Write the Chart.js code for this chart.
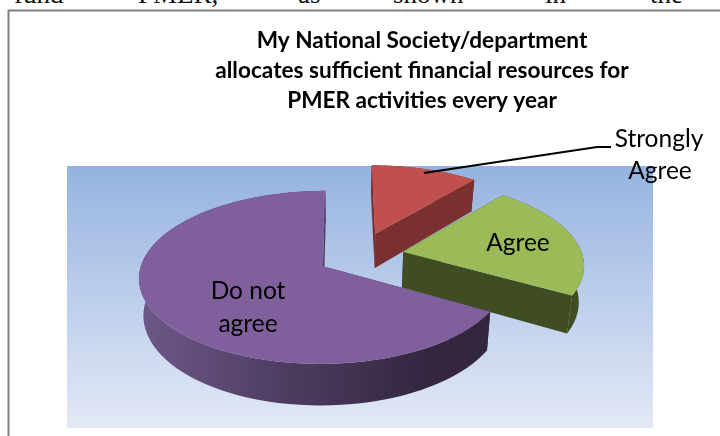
<!DOCTYPE html>
<html>
<head>
<meta charset="utf-8">
<style>
  html, body { margin: 0; padding: 0; background: #fff; }
  #wrap { position: relative; width: 720px; height: 436px; overflow: hidden; }
  canvas { position: absolute; left: 0; top: 0; }
  .body-word { position: absolute; top: -19px; font: 27px/27px "Liberation Serif", serif; color: #111; }
</style>
<script src="https://cdn.jsdelivr.net/npm/chart.js@4/dist/chart.umd.min.js"></script>
</head>
<body>
<div id="wrap">
  <span class="body-word" style="left:14px">fund</span>
  <span class="body-word" style="left:138px">PMER,</span>
  <span class="body-word" style="left:298px">as</span>
  <span class="body-word" style="left:393px">shown</span>
  <span class="body-word" style="left:545px">in</span>
  <span class="body-word" style="left:650px">the</span>
  <canvas id="pieChart" width="720" height="436"></canvas>
</div>
<script>
// Survey answers, clockwise from twelve o'clock
const categories = ['Strongly Agree', 'Agree', 'Do not agree'];
const shares = [11, 22, 66];
const topColors = ['#c0504d', '#9bbb59', '#7f609c'];
const titleLines = ['My National Society/department', 'allocates sufficient financial resources for', 'PMER activities every year'];

// Perspective settings for the tilted pie, pull = how far each slice sits from the middle
const view = {
    x0: 343, y0: 262, a: 181, b: 84, k: 0.128, depth: 36, shrink: 0.022,
    pull: [[0.186, -0.35], [0.338, -0.12], [-0.11, 0.05]]
};

// Flat pie coordinates (radius 1) to screen, lifted = false gives the bottom face
function project(p, lifted) {
    const s = 1 / (1 - view.k * p[1]);
    let x = view.x0 + view.a * p[0] * s;
    let y = view.y0 + view.b * p[1] * s;
    if (!lifted) {
        x = view.x0 + (x - view.x0) * (1 - view.shrink);
        y += view.depth * s;
    }
    return [x, y];
}

// Rim of a slice in flat coordinates, angles come from the arc element
function sliceRim(el, center) {
    const pts = [];
    const steps = 80;
    for (let i = 0; i <= steps; i++) {
        const a = el.startAngle + (el.endAngle - el.startAngle) * i / steps;
        pts.push([center[0] + Math.cos(a), center[1] + Math.sin(a)]);
    }
    return pts;
}

function fillPoly(ctx, pts, style) {
    ctx.beginPath();
    pts.forEach((p, i) => i ? ctx.lineTo(p[0], p[1]) : ctx.moveTo(p[0], p[1]));
    ctx.closePath();
    ctx.fillStyle = style;
    ctx.fill();
}

function sideStyle(ctx, index) {
    if (index === 0) return '#7a302e';
    if (index === 1) return '#404c22';
    const g = ctx.createLinearGradient(143, 0, 430, 0);
    g.addColorStop(0, '#6c5888');
    g.addColorStop(0.5, '#4d3c60');
    g.addColorStop(1, '#33263f');
    return g;
}

// Band between two runs of points, top run forward and bottom run back
function wall(ctx, run, style) {
    const top = run.map(p => project(p, true));
    const bottom = run.map(p => project(p, false)).reverse();
    fillPoly(ctx, top.concat(bottom), style);
}

const pie3d = {
    id: 'pie3d',
    beforeDraw(chart) {
        const ctx = chart.ctx;
        // Plot backdrop
        const g = ctx.createLinearGradient(0, 166, 0, 428);
        g.addColorStop(0, '#95b3e0');
        g.addColorStop(1, '#e3e9f6');
        ctx.fillStyle = g;
        ctx.fillRect(67, 166, 586, 262);
        // Frame around the figure
        ctx.strokeStyle = '#7f7f7f';
        ctx.lineWidth = 2;
        ctx.beginPath();
        ctx.moveTo(8.5, 436);
        ctx.lineTo(8.5, 10.5);
        ctx.lineTo(720, 10.5);
        ctx.stroke();
    },
    // Replaces the flat arcs with extruded ones
    beforeDatasetsDraw(chart) {
        const ctx = chart.ctx;
        const arcs = chart.getDatasetMeta(0).data;
        arcs.forEach((el, i) => {
            const center = view.pull[i];
            const rim = sliceRim(el, center);
            const side = sideStyle(ctx, i);
            wall(ctx, rim, side);
            wall(ctx, [center, rim[0]], side);
            wall(ctx, [center, rim[rim.length - 1]], side);
            fillPoly(ctx, [center, ...rim].map(p => project(p, true)), el.options.backgroundColor);
        });
        return false;
    },
    afterDraw(chart) {
        const ctx = chart.ctx;
        // Leader line for the small slice
        ctx.strokeStyle = '#000';
        ctx.lineWidth = 2;
        ctx.beginPath();
        ctx.moveTo(424, 173);
        ctx.lineTo(597, 147);
        ctx.lineTo(611, 147);
        ctx.stroke();

        ctx.fillStyle = '#000';
        ctx.font = '24.5px Lato';
        ctx.textAlign = 'center';
        ctx.textBaseline = 'middle';
        ctx.fillText('Strongly', 659, 139);
        ctx.fillText('Agree', 660, 171);
        ctx.fillText('Agree', 518, 243);
        ctx.fillText('Do not', 248, 291);
        ctx.fillText('agree', 248, 324);
    }
};

new Chart(document.getElementById('pieChart'), {
    type: 'pie',
    data: {
        labels: categories,
        datasets: [{ data: shares, backgroundColor: topColors, borderWidth: 0 }]
    },
    options: {
        responsive: false,
        animation: false,
        layout: { padding: { left: 124, top: 26 } },
        plugins: {
            legend: { display: false },
            tooltip: { enabled: false },
            title: {
                display: true,
                text: titleLines,
                color: '#000',
                font: { family: 'Lato', size: 22.6, weight: 'bold', lineHeight: 1.327 },
                padding: 0
            }
        }
    },
    plugins: [pie3d]
});
</script>
</body>
</html>
